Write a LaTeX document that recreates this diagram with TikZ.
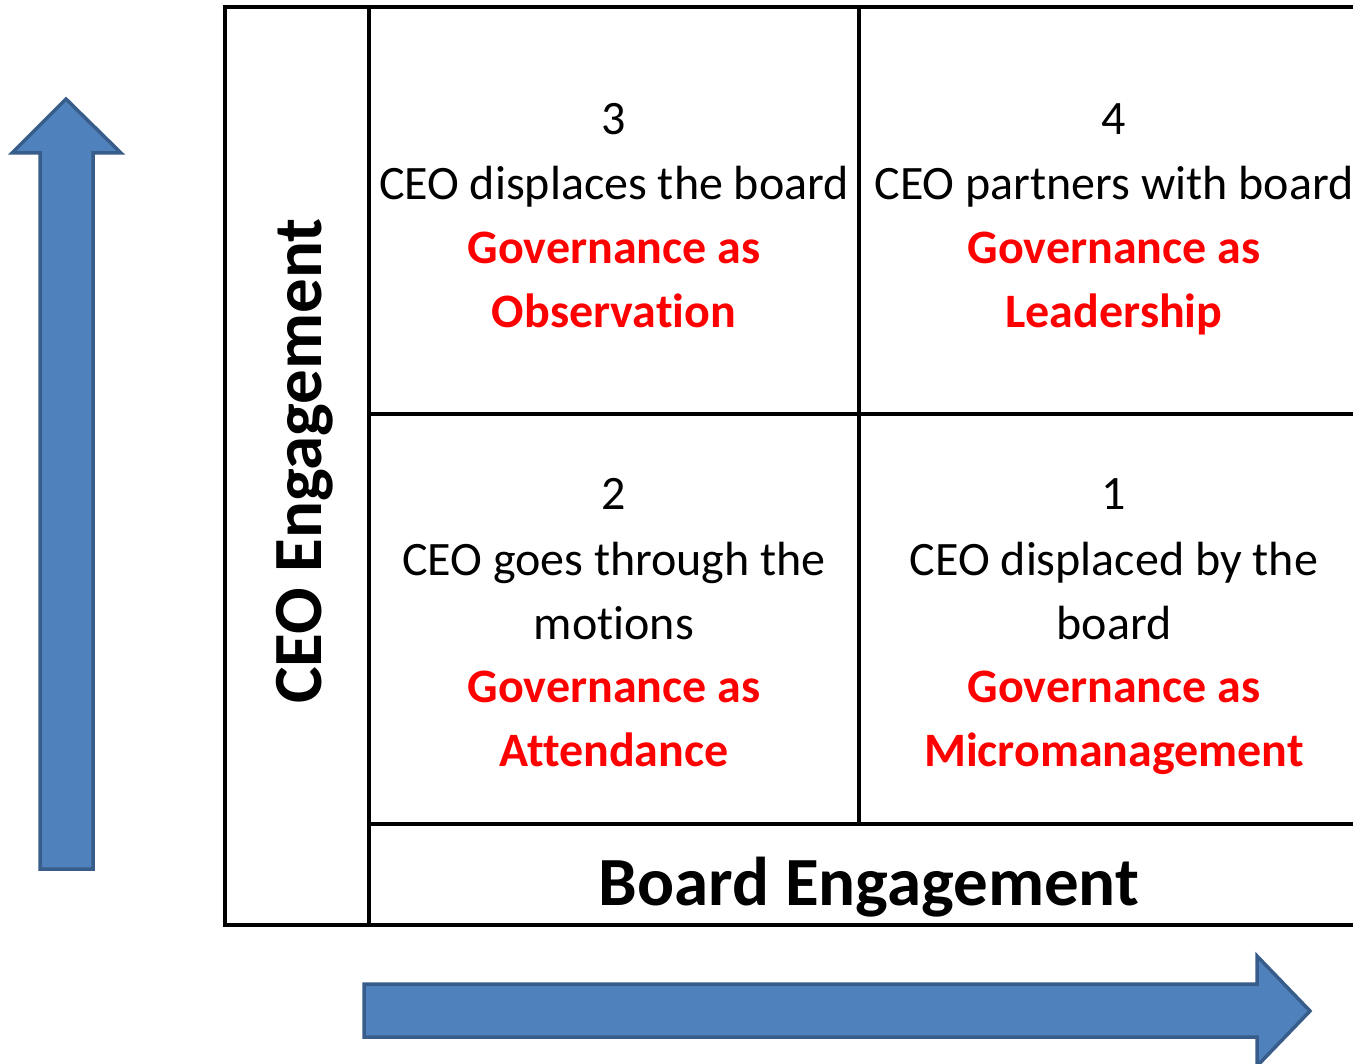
\documentclass[tikz,border=0pt]{standalone}
\usepackage{fontspec}
\setmainfont{Carlito}[Ligatures=NoCommon]
\definecolor{arrowblue}{HTML}{4F81BD}
\definecolor{arrowedge}{HTML}{385D8A}
\definecolor{govred}{HTML}{FF0000}
\begin{document}
\begin{tikzpicture}[x=1pt,y=-1pt,
  gridline/.style={line width=3.5pt, line cap=rect},
  bigarrow/.style={fill=arrowblue, draw=arrowedge, line width=3.5pt, line join=miter},
  plain/.style={anchor=base, inner sep=0pt, font=\fontsize{48}{52}\selectfont},
  gov/.style={anchor=base, inner sep=0pt, text=govred, font=\fontsize{48}{52}\selectfont\bfseries},
  axislabel/.style={inner sep=0pt, font=\fontsize{69}{72}\selectfont\bfseries}]
\clip (0,0) rectangle (1353,1064);
\fill[white] (0,0) rectangle (1353,1064);

% grid corners
\coordinate (tl) at (225,7);
\coordinate (bl) at (225,925);
\coordinate (ct) at (369,7);
\coordinate (cb) at (369,925);
\coordinate (mt) at (859,7);
\coordinate (mb) at (859,824);
\coordinate (rt) at (1369,7);
\coordinate (hm) at (369,414);
\coordinate (hmr) at (1369,414);
\coordinate (hl) at (369,824);
\coordinate (hlr) at (1369,824);
\coordinate (br) at (1369,925);

% table lines
\draw[gridline] (bl) -- (tl) -- (rt);
\draw[gridline] (ct) -- (cb);
\draw[gridline] (mt) -- (mb);
\draw[gridline] (hm) -- (hmr);
\draw[gridline] (hl) -- (hlr);
\draw[gridline] (bl) -- (br);

% up arrow
\draw[bigarrow] (40,869) -- (40,153) -- (12,153) -- (66,99) -- (121,153)
  -- (93,153) -- (93,869) -- cycle;
% right arrow
\draw[bigarrow] (364,984) -- (1257,984) -- (1257,956) -- (1310,1011)
  -- (1257,1066) -- (1257,1037) -- (364,1037) -- cycle;

% quadrant 3
\node[plain] (n3) at (614,135) {3};
\node[plain] (d3) at (614,200) {CEO displaces the board};
\node[gov] (g3a) at (614,264) {Governance as};
\node[gov] (g3b) at (614,328) {Observation};
% quadrant 4
\node[plain] (n4) at (1114,135) {4};
\node[plain] (d4) at (1114,200) {CEO partners with board};
\node[gov] (g4a) at (1114,264) {Governance as};
\node[gov] (g4b) at (1114,328) {Leadership};
% quadrant 2
\node[plain] (n2) at (614,510) {2};
\node[plain] (d2a) at (614,576) {CEO goes through the};
\node[plain] (d2b) at (614,639) {motions};
\node[gov] (g2a) at (614,702) {Governance as};
\node[gov] (g2b) at (614,766) {Attendance};
% quadrant 1
\node[plain] (n1) at (1114,510) {1};
\node[plain] (d1a) at (1114,576) {CEO displaced by the};
\node[plain] (d1b) at (1114,639) {board};
\node[gov] (g1a) at (1114,702) {Governance as};
\node[gov] (g1b) at (1114,766) {Micromanagement};

% axis labels
\node[axislabel, anchor=base] (xlab) at (869,905) {Board Engagement};
\node[axislabel, rotate=90, anchor=base] (ylab) at (321,461) {CEO Engagement};
\end{tikzpicture}
\end{document}
